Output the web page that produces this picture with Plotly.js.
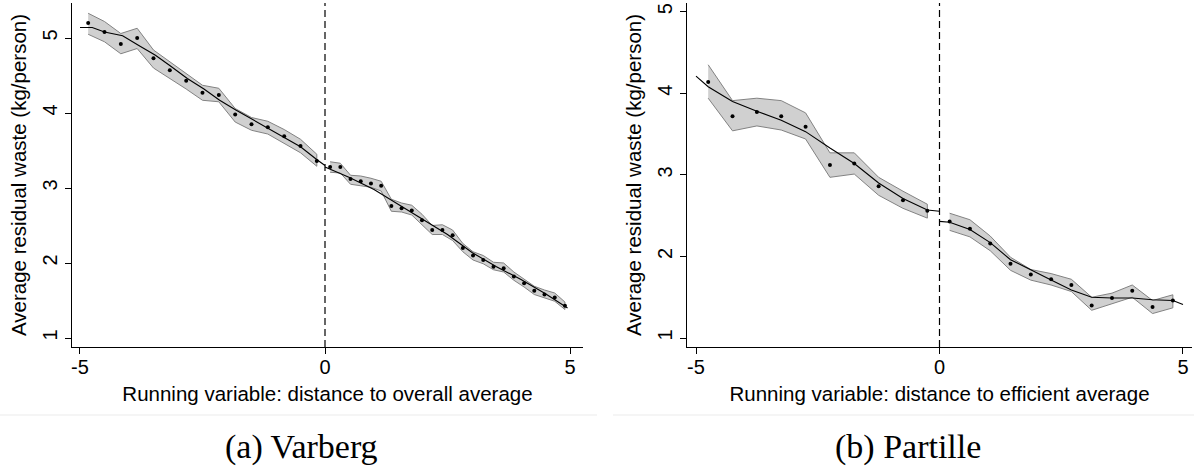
<!DOCTYPE html>
<html>
<head>
<meta charset="utf-8">
<script src="https://cdn.plot.ly/plotly-3.0.1.min.js"></script>
<style>
  html, body { margin: 0; padding: 0; background: #ffffff; }
  #chart { width: 1194px; height: 472px; }
</style>
</head>
<body>
<div id="chart"></div>
<script>
// ---------- Varberg (running variable: distance to overall average) ----------
const varbergLeftX  = [-4.833,-4.5,-4.167,-3.833,-3.5,-3.167,-2.833,-2.5,-2.167,-1.833,-1.5,-1.167,-0.833,-0.5,-0.167];
const varbergLeftY  = [5.20,5.08,4.92,5.00,4.73,4.57,4.43,4.27,4.24,3.98,3.85,3.81,3.69,3.56,3.36];
const varbergLeftHi = [5.33,5.22,5.06,5.13,4.84,4.68,4.53,4.37,4.33,4.06,3.94,3.89,3.78,3.65,3.45];
const varbergLeftLo = [5.05,4.95,4.79,4.86,4.60,4.46,4.32,4.17,4.15,3.88,3.77,3.72,3.60,3.47,3.29];
const varbergLeftFitX = [-5.0,-4.75,-4.5,-4.13,-3.8,-3.46,-3.14,-2.81,-2.47,-2.15,-1.82,-1.49,-1.16,-0.84,-0.5,-0.17,0];
const varbergLeftFitY = [5.14,5.14,5.08,5.03,4.90,4.77,4.62,4.46,4.32,4.17,4.04,3.92,3.80,3.68,3.55,3.38,3.30];

const varbergRightX  = [0.104,0.313,0.521,0.729,0.938,1.146,1.354,1.563,1.771,1.979,2.188,2.396,2.604,2.813,3.021,3.229,3.438,3.646,3.854,4.063,4.271,4.479,4.688,4.896];
const varbergRightY  = [3.28,3.28,3.12,3.09,3.06,3.03,2.76,2.73,2.70,2.57,2.44,2.44,2.37,2.20,2.10,2.04,1.95,1.93,1.82,1.73,1.63,1.58,1.54,1.43];
const varbergRightHi = [3.35,3.33,3.17,3.16,3.13,3.09,2.85,2.80,2.77,2.65,2.50,2.51,2.44,2.26,2.15,2.10,2.01,2.00,1.88,1.79,1.69,1.64,1.60,1.48];
const varbergRightLo = [3.21,3.20,3.05,3.03,3.01,2.96,2.69,2.68,2.64,2.51,2.38,2.38,2.30,2.15,2.04,1.99,1.91,1.88,1.77,1.68,1.58,1.53,1.49,1.38];
const varbergRightFitX = [0,0.5,1.0,1.5,2.0,2.5,3.0,3.5,4.0,4.5,4.95];
const varbergRightFitY = [3.28,3.14,2.98,2.78,2.58,2.38,2.14,1.95,1.78,1.59,1.40];

// ---------- Partille (running variable: distance to efficient average) ----------
const partilleLeftX  = [-4.75,-4.25,-3.75,-3.25,-2.75,-2.25,-1.75,-1.25,-0.75,-0.25];
const partilleLeftY  = [4.14,3.72,3.77,3.72,3.59,3.12,3.14,2.86,2.69,2.56];
const partilleLeftHi = [4.35,3.91,3.94,3.91,3.76,3.27,3.27,2.97,2.80,2.64];
const partilleLeftLo = [3.94,3.54,3.60,3.55,3.44,2.97,3.01,2.75,2.59,2.47];
const partilleLeftFitX = [-5.0,-4.75,-4.25,-3.75,-3.25,-2.75,-2.25,-1.75,-1.25,-0.75,-0.25,0];
const partilleLeftFitY = [4.21,4.08,3.90,3.78,3.67,3.53,3.33,3.14,2.90,2.71,2.57,2.555];

const partilleRightX  = [0.208,0.625,1.042,1.458,1.875,2.292,2.708,3.125,3.542,3.958,4.375,4.792];
const partilleRightY  = [2.43,2.34,2.16,1.91,1.78,1.72,1.65,1.40,1.49,1.58,1.38,1.46];
const partilleRightHi = [2.53,2.45,2.25,1.99,1.84,1.79,1.72,1.50,1.55,1.65,1.46,1.53];
const partilleRightLo = [2.32,2.24,2.07,1.83,1.71,1.65,1.57,1.34,1.42,1.50,1.30,1.37];
const partilleRightFitX = [0,0.208,0.625,1.042,1.458,1.875,2.292,2.708,3.125,3.542,3.958,4.375,4.792,5.0];
const partilleRightFitY = [2.43,2.42,2.33,2.17,1.96,1.83,1.71,1.59,1.50,1.49,1.49,1.47,1.46,1.41];

// ---------- Tick labels / text ----------
const xTicks = [-5, 0, 5];
const yTicks = [1, 2, 3, 4, 5];
const yTitle = "Average residual waste (kg/person)";
const xTitleA = "Running variable: distance to overall average";
const xTitleB = "Running variable: distance to efficient average";
const captionA = "(a) Varberg";
const captionB = "(b) Partille";

// ---------- Styling ----------
const bandFill = "rgb(208,208,208)";
const bandLine = "rgb(130,130,130)";
const sansFont = "Liberation Sans, Arial, sans-serif";

function band(x, hi, lo, xa, ya) {
  return {
    x: x.concat(x.slice().reverse()),
    y: hi.concat(lo.slice().reverse()),
    xaxis: xa, yaxis: ya,
    type: "scatter", mode: "lines",
    fill: "toself", fillcolor: bandFill,
    line: { color: bandLine, width: 1 },
    hoverinfo: "skip", showlegend: false
  };
}
function dots(x, y, xa, ya) {
  return { x: x, y: y, xaxis: xa, yaxis: ya, type: "scatter", mode: "markers",
    marker: { color: "#000", size: 4 }, showlegend: false };
}
function fit(x, y, xa, ya) {
  return { x: x, y: y, xaxis: xa, yaxis: ya, type: "scatter", mode: "lines",
    line: { color: "#000", width: 1.1 }, showlegend: false };
}

const data = [
  band(varbergLeftX, varbergLeftHi, varbergLeftLo, "x", "y"),
  band(varbergRightX, varbergRightHi, varbergRightLo, "x", "y"),
  fit(varbergLeftFitX, varbergLeftFitY, "x", "y"),
  fit(varbergRightFitX, varbergRightFitY, "x", "y"),
  dots(varbergLeftX, varbergLeftY, "x", "y"),
  dots(varbergRightX, varbergRightY, "x", "y"),
  band(partilleLeftX, partilleLeftHi, partilleLeftLo, "x2", "y2"),
  band(partilleRightX, partilleRightHi, partilleRightLo, "x2", "y2"),
  fit(partilleLeftFitX, partilleLeftFitY, "x2", "y2"),
  fit(partilleRightFitX, partilleRightFitY, "x2", "y2"),
  dots(partilleLeftX, partilleLeftY, "x2", "y2"),
  dots(partilleRightX, partilleRightY, "x2", "y2")
];

const W = 1194, H = 472;
const py = v => (H - v) / H;   // pixel y -> paper
const px = v => v / W;         // pixel x -> paper

function xAxis(domain, range, title, anchor) {
  return {
    domain: domain, range: range, anchor: anchor,
    tickvals: xTicks, ticktext: xTicks.map(String),
    ticks: "outside", ticklen: 6, tickwidth: 1, tickcolor: "#000",
    ticklabelstandoff: -4,
    showline: true, linecolor: "#000", linewidth: 1,
    showgrid: false, zeroline: false, automargin: false,
    tickfont: { family: sansFont, size: 20, color: "#000" },
    title: { text: title, font: { family: sansFont, size: 20.5, color: "#000" }, standoff: 9 }
  };
}
function yAxis(domain, range, anchor) {
  return {
    domain: domain, range: range, anchor: anchor,
    tickvals: yTicks, ticktext: yTicks.map(String),
    ticks: "outside", ticklen: 6, tickwidth: 1, tickcolor: "#000",
    tickangle: -90,
    showline: true, linecolor: "#000", linewidth: 1,
    showgrid: false, zeroline: false, automargin: false,
    tickfont: { family: sansFont, size: 20, color: "#000" },
    title: { text: yTitle, font: { family: sansFont, size: 20.5, color: "#000" }, standoff: 6 }
  };
}

const layout = {
  width: W, height: H,
  margin: { l: 0, r: 0, t: 0, b: 0 },
  paper_bgcolor: "#fff", plot_bgcolor: "#fff",
  showlegend: false,
  xaxis:  xAxis([px(72), px(583)], [-5.163, 5.265], xTitleA, "y"),
  yaxis:  yAxis([py(347), py(3)], [0.88, 5.467], "x"),
  xaxis2: xAxis([px(687), px(1192)], [-5.185, 5.185], xTitleB, "y2"),
  yaxis2: yAxis([py(347), py(3)], [0.89, 5.107], "x2"),
  shapes: [
    { type: "line", xref: "x", yref: "y domain", x0: 0, x1: 0, y0: 0, y1: 1,
      line: { color: "#000", width: 1.2, dash: "7px,4px" } },
    { type: "line", xref: "x2", yref: "y2 domain", x0: 0, x1: 0, y0: 0, y1: 1,
      line: { color: "#000", width: 1.2, dash: "7px,4px" } },
    { type: "line", xref: "paper", yref: "paper", x0: 0, x1: px(597), y0: py(415), y1: py(415),
      line: { color: "rgb(235,235,235)", width: 1 } },
    { type: "line", xref: "paper", yref: "paper", x0: px(613), x1: 1, y0: py(415), y1: py(415),
      line: { color: "rgb(235,235,235)", width: 1 } }
  ],
  annotations: [
    { text: captionA, xref: "paper", yref: "paper", x: px(301), y: py(447),
      xanchor: "center", yanchor: "middle", showarrow: false,
      font: { family: "Liberation Serif, serif", size: 34, color: "#000" } },
    { text: captionB, xref: "paper", yref: "paper", x: px(908), y: py(447),
      xanchor: "center", yanchor: "middle", showarrow: false,
      font: { family: "Liberation Serif, serif", size: 34, color: "#000" } }
  ]
};

Plotly.newPlot("chart", data, layout, { staticPlot: true, displayModeBar: false });
</script>
</body>
</html>
